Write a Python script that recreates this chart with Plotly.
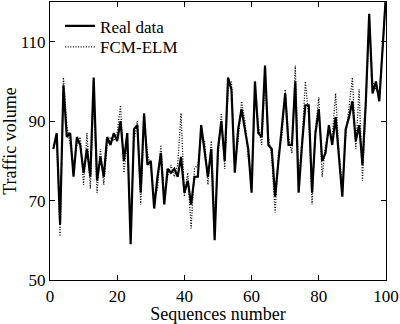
import plotly.graph_objects as go

seq = list(range(1, 101))
real_data = [83, 87, 64, 99, 86, 87, 76, 86, 84, 77,
             83, 76, 101, 75, 81, 76, 86, 84, 87, 85,
             90, 80, 87, 59, 88, 89, 72, 92, 79, 80,
             68, 76, 82, 69, 78, 77, 78, 76, 81, 72,
             75, 69, 76, 76, 89, 83, 76, 83, 60, 83,
             90, 80, 101, 98, 77, 88, 93, 88, 83, 72,
             100, 87, 86, 104, 84, 83, 71, 80, 88, 97,
             84, 84, 100, 72, 84, 94, 94, 72, 87, 93,
             80, 82, 89, 84, 91, 80, 71, 88, 91, 95,
             85, 89, 79, 95, 117, 97, 100, 95, 110, 122]
fcm_elm = [84, 85, 61, 101, 89, 84, 79, 84, 86, 74,
           87, 73, 97, 72, 83, 74, 84, 86, 85, 87,
           94, 77, 85, 63, 85, 90, 69, 90, 82, 78,
           71, 73, 84, 71, 76, 79, 76, 79, 92, 71,
           77, 63, 78, 79, 86, 85, 74, 85, 64, 81,
           92, 78, 98, 100, 79, 85, 95, 90, 81, 75,
           96, 89, 84, 101, 86, 81, 67, 82, 86, 98,
           86, 82, 104, 75, 85, 100, 91, 69, 88, 96,
           76, 84, 87, 86, 97, 82, 73, 86, 93, 101,
           83, 98, 75, 93, 114, 100, 98, 97, 108, 124]
x_ticks = [0, 20, 40, 60, 80, 100]
y_ticks = [50, 70, 90, 110]

FONT = "Liberation Serif"

fig = go.Figure()
fig.add_trace(go.Scatter(x=seq, y=real_data, mode="lines", name="Real data",
                         line=dict(color="black", width=2.2), legend="legend"))
fig.add_trace(go.Scatter(x=seq, y=fcm_elm, mode="lines", name="FCM-ELM",
                         line=dict(color="black", width=1.3, dash="1px,1.6px"), legend="legend2"))

axis_common = dict(showgrid=False, zeroline=False, showline=True, linecolor="black",
                   linewidth=1.2, mirror="ticks", ticks="inside", ticklen=5,
                   tickcolor="black", tickfont=dict(family=FONT, size=17, color="black"))

fig.update_layout(
    width=400, height=324,
    margin=dict(l=50, r=10, t=1, b=44),
    paper_bgcolor="white", plot_bgcolor="white",
    font=dict(family=FONT, color="black"),
    xaxis=dict(range=[0, 100], tickvals=x_ticks, ticklabeloverflow="allow",
               title=dict(text="Sequences number", font=dict(family=FONT, size=18), standoff=2),
               **axis_common),
    yaxis=dict(range=[50, 120], tickvals=y_ticks,
               title=dict(text="Traffic volume", font=dict(family=FONT, size=18), standoff=4),
               **axis_common),
    legend=dict(x=0.03, y=0.977, xanchor="left", yanchor="top", bgcolor="rgba(0,0,0,0)",
                font=dict(family=FONT, size=17), itemwidth=30,
                borderwidth=0, tracegroupgap=0),
    legend2=dict(x=0.03, y=0.902, xanchor="left", yanchor="top", bgcolor="rgba(0,0,0,0)",
                 font=dict(family=FONT, size=17), itemwidth=30,
                 borderwidth=0, tracegroupgap=0),
    showlegend=True,
)

fig.write_html("out.html")
